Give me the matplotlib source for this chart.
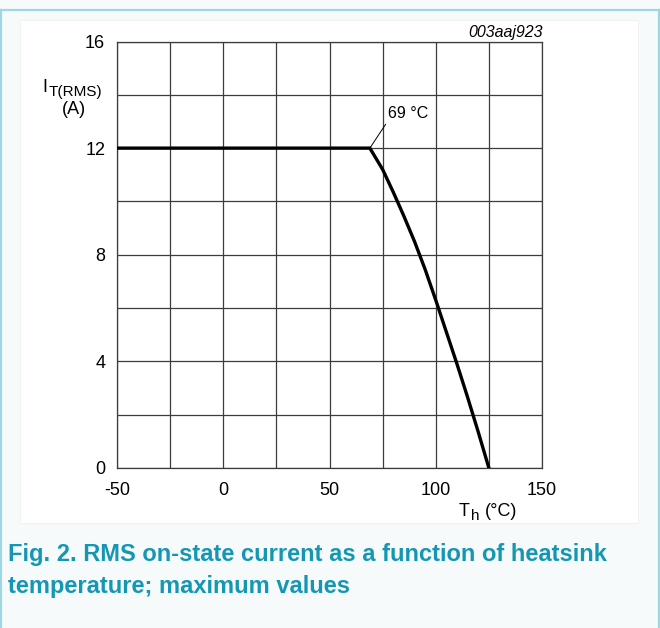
import matplotlib.pyplot as plt
from matplotlib.patches import Rectangle
from matplotlib.lines import Line2D

# data
temps = [-50, 69, 75, 80, 85, 90, 95, 100, 105, 110, 115, 120, 125]
current = [12, 12, 11.2, 10.35, 9.45, 8.5, 7.45, 6.3, 5.1, 3.9, 2.65, 1.35, 0]
x_ticks = [-50, 0, 50, 100, 150]
y_ticks = [0, 4, 8, 12, 16]
knee_label = "69 °C"
fig_code = "003aaj923"
caption_lines = ["Fig. 2. RMS on-state current as a function of heatsink",
                 "temperature; maximum values"]

W, H = 660, 628
plt.rcParams['font.family'] = ['Liberation Sans', 'DejaVu Sans']
teal = '#1597b3'
grid_col = '#3c3c3c'


def px(x, y):
    return x / W, 1 - y / H


fig = plt.figure(figsize=(W / 100, H / 100), dpi=100, facecolor='#f6fafb')

# white card behind the chart, and the teal frame
fig.patches.append(Rectangle(px(0, 0), 1, 1, transform=fig.transFigure,
                             facecolor='white', edgecolor='none', zorder=-3))
fig.patches.append(Rectangle(px(1, H), (W - 2) / W, (H - 10) / H, transform=fig.transFigure,
                             facecolor='#f6fafb', edgecolor='none', zorder=-2))
fig.patches.append(Rectangle(px(20, 523), 618 / W, 503 / H, transform=fig.transFigure,
                             facecolor='white', edgecolor='#f0f0f0', lw=0.6, zorder=-1))
for xs, ys in [((0, W), (9.5, 9.5)), ((1, 1), (9.5, H)), ((W - 1.5, W - 1.5), (9.5, H))]:
    fig.lines.append(Line2D([x / W for x in xs], [1 - y / H for y in ys],
                            transform=fig.transFigure, color='#9ed7e0', lw=1.6))

ax = fig.add_axes([117 / W, (H - 468) / H, 425 / W, 426.5 / H])
ax.set_facecolor('white')
ax.plot(temps, current, color='black', lw=2.4, solid_joinstyle='miter', zorder=3)

ax.set_xlim(-50, 150)
ax.set_ylim(0, 16)
ax.set_xticks(range(-50, 151, 25))
ax.set_yticks(range(0, 17, 2))
ax.grid(True, color=grid_col, lw=0.9)
ax.set_xticklabels([str(t) if t in x_ticks else '' for t in range(-50, 151, 25)])
ax.set_yticklabels([str(t) if t in y_ticks else '' for t in range(0, 17, 2)])
ax.tick_params(length=0, labelsize=13)
ax.tick_params(axis='x', pad=10)
ax.tick_params(axis='y', pad=8.5)
for s in ax.spines.values():
    s.set_color(grid_col)
    s.set_linewidth(0.9)

# knee annotation with leader line
ax.annotate(knee_label, xy=(69, 12), xytext=(77.3, 13.0), fontsize=11.5,
            ha='left', va='bottom',
            arrowprops=dict(arrowstyle='-', color='black', lw=0.7,
                            shrinkA=0, shrinkB=0, relpos=(0, 0)))

fig.text(*px(543, 32), fig_code, ha='right', va='center', fontsize=11.5, style='italic')

# axis titles with near full-size subscripts
fig.text(*px(42, 92), 'I', ha='left', va='baseline', fontsize=13)
fig.text(*px(49, 96), 'T(RMS)', ha='left', va='baseline', fontsize=11)
fig.text(*px(74, 110), '(A)', ha='center', va='center', fontsize=13)
fig.text(*px(459, 516), 'T', ha='left', va='baseline', fontsize=13)
fig.text(*px(471.5, 520), 'h', ha='left', va='baseline', fontsize=11)
fig.text(*px(485, 516), '(°C)', ha='left', va='baseline', fontsize=13)

for i, line in enumerate(caption_lines):
    fig.text(*px(8, 555 + 32 * i), line, ha='left', va='center', fontsize=17,
             fontweight='bold', color=teal)

fig.savefig('out.png', dpi=100, facecolor=fig.get_facecolor())
